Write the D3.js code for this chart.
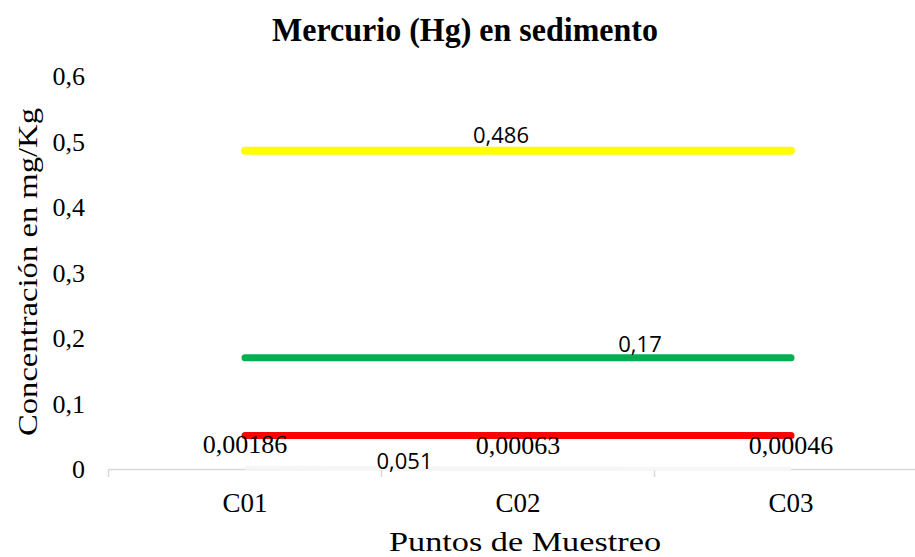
<!DOCTYPE html>
<html>
<head>
<meta charset="utf-8">
<script src="https://cdn.jsdelivr.net/npm/d3@7"></script>
<style>
  html, body { margin: 0; padding: 0; background: #fff; }
  svg { display: block; }
</style>
</head>
<body>
<svg id="chart" width="915" height="557"></svg>
<script>
// ---- data ----
const categories = ["C01", "C02", "C03"];
const sampleValues = [0.00186, 0.00063, 0.00046];
const sampleLabels = ["0,00186", "0,00063", "0,00046"];
const limitValues = [0.486, 0.17, 0.051];
const limitLabels = ["0,486", "0,17", "0,051"];
const limitColors = ["#FFFF00", "#00B050", "#FF0000"];
const yTicks = [0, 0.1, 0.2, 0.3, 0.4, 0.5, 0.6];
const yTickLabels = ["0", "0,1", "0,2", "0,3", "0,4", "0,5", "0,6"];
const titleText = "Mercurio (Hg) en sedimento";
const xTitleText = "Puntos de Muestreo";
const yTitleText = "Concentración en mg/Kg";

const svg = d3.select("#chart");
const serif = "'Liberation Serif', 'Times New Roman', serif";
const sans = "'Open Sans', 'Liberation Sans', sans-serif";

const x = d3.scaleBand().domain(categories).range([108.5, 927.5]).paddingInner(0).paddingOuter(0);
const y = d3.scaleLinear().domain([0, 0.6]).range([469, 76]);
const cx = c => x(c) + x.bandwidth() / 2;

// title
svg.append("text")
  .attr("x", 465).attr("y", 41)
  .attr("text-anchor", "middle")
  .attr("font-family", serif).attr("font-weight", "bold")
  .attr("font-size", 33)
  .attr("textLength", 386).attr("lengthAdjust", "spacingAndGlyphs")
  .text(titleText);

// y tick labels (no axis line, no gridlines)
const yAxis = d3.axisLeft(y).tickValues(yTicks).tickSize(0).tickPadding(0)
  .tickFormat((d, i) => yTickLabels[i]);
const gy = svg.append("g").attr("transform", "translate(85,0)").call(yAxis);
gy.select(".domain").remove();
gy.selectAll("text")
  .attr("font-family", serif).attr("font-size", 26).attr("fill", "#000")
  .attr("dy", "0.34em");

// x axis
const xAxis = d3.axisBottom(x).tickSize(0).tickPadding(24);
const gx = svg.append("g").attr("transform", `translate(0,${y(0)})`).call(xAxis);
gx.select(".domain").attr("stroke", "#d9d9d9").attr("stroke-width", 1.5);
gx.selectAll("text")
  .attr("font-family", serif).attr("font-size", 27).attr("fill", "#000");
// category boundary tick marks
const bounds = categories.map(c => x(c)).concat([x.range()[1]]);
gx.selectAll(".bnd").data(bounds).enter().append("line")
  .attr("x1", d => d).attr("x2", d => d)
  .attr("y1", 0).attr("y2", 8)
  .attr("stroke", "#d9d9d9").attr("stroke-width", 1.5);

// axis titles
svg.append("text")
  .attr("x", 525).attr("y", 551)
  .attr("text-anchor", "middle")
  .attr("font-family", serif).attr("font-size", 27)
  .attr("textLength", 272).attr("lengthAdjust", "spacingAndGlyphs")
  .text(xTitleText);
svg.append("text")
  .attr("transform", "translate(37,272) rotate(-90)")
  .attr("text-anchor", "middle")
  .attr("font-family", serif).attr("font-size", 28)
  .attr("textLength", 328).attr("lengthAdjust", "spacingAndGlyphs")
  .text(yTitleText);

// sample series line (very faint)
const line = d3.line().x((d, i) => cx(categories[i])).y(d => y(d));
svg.append("path")
  .datum(sampleValues)
  .attr("d", line)
  .attr("fill", "none").attr("stroke", "#f6f6f6").attr("stroke-width", 4);

// limit lines
const widths = [8, 7, 7];
limitValues.forEach((v, k) => {
  svg.append("path")
    .datum(categories.map(() => v))
    .attr("d", line)
    .attr("fill", "none")
    .attr("stroke", limitColors[k])
    .attr("stroke-width", widths[k])
    .attr("stroke-linecap", "round");
});

// limit labels
const limitLabelX = [cx("C02") - 17, cx("C03") - 151, x("C02") + 23];
const limitLabelDy = [-8, -6, 33];
limitValues.forEach((v, k) => {
  svg.append("text")
    .attr("x", limitLabelX[k]).attr("y", y(v) + limitLabelDy[k])
    .attr("text-anchor", "middle")
    .attr("font-family", sans).attr("font-size", 22).attr("fill", "#000")
    .text(limitLabels[k]);
});

// sample labels
svg.selectAll(".slab").data(sampleValues).enter().append("text")
  .attr("x", (d, i) => cx(categories[i]))
  .attr("y", d => y(d) - 15)
  .attr("text-anchor", "middle")
  .attr("font-family", serif).attr("font-size", 26).attr("fill", "#000")
  .text((d, i) => sampleLabels[i]);
</script>
</body>
</html>
